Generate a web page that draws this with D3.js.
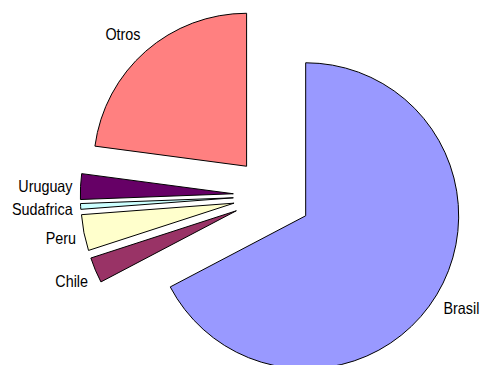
<!DOCTYPE html>
<html lang="es">
<head>
    <meta charset="UTF-8">
    <title>Pie chart - Brasil, Chile, Peru, Sudafrica, Uruguay, Otros</title>
    <script src="https://d3js.org/d3.v7.min.js"></script>
    <style>
        body {
            margin: 0;
            background: #ffffff;
        }
        .slice {
            stroke: #000000;
            stroke-width: 1;
            stroke-linejoin: miter;
        }
        .label {
            font-family: "Liberation Sans", Arial, sans-serif;
            font-size: 16.5px;
            fill: #000000;
        }
    </style>
</head>
<body>
    <svg id="pie" width="483" height="365"></svg>

    <script>
        // share in percent
        const paises = ["Brasil", "Chile", "Peru", "Sudafrica", "Uruguay", "Otros"];
        const valores = [67.3, 2.7, 3.8, 0.6, 2.7, 22.9];
        const colores = ["#9999ff", "#993366", "#ffffcc", "#ccffff", "#660066", "#ff8080"];

        const width = 483, height = 365;
        const cx = 272.3, cy = 195.6;
        const radius = 153;
        const explode = 39;
        const narrow = 0.87; // no Arial Narrow installed, squeeze the text instead

        const data = paises.map((p, i) => ({pais: p, valor: valores[i], color: colores[i]}));

        const pie = d3.pie()
            .value(d => d.valor)
            .sort(null);

        const arc = d3.arc()
            .innerRadius(0)
            .outerRadius(radius);

        const arcs = pie(data);

        const svg = d3.select("#pie")
            .append("g")
            .attr("transform", `translate(${cx},${cy})`);

        // direction of the bisector of each slice
        const dir = d => {
            const a = (d.startAngle + d.endAngle) / 2;
            return [Math.sin(a), -Math.cos(a)];
        };

        svg.selectAll("path")
            .data(arcs)
            .enter()
            .append("path")
            .attr("class", "slice")
            .attr("d", arc)
            .attr("fill", d => d.data.color)
            .attr("transform", d => {
                const [ux, uy] = dir(d);
                return `translate(${ux * explode},${uy * explode})`;
            });

        svg.selectAll("text")
            .data(arcs)
            .enter()
            .append("text")
            .attr("class", "label")
            .attr("transform", d => {
                const [ux, uy] = dir(d);
                const x = ux * (radius + explode + 8);
                const y = uy * (radius + explode + 24) + 7;
                return `translate(${x},${y}) scale(${narrow},1)`;
            })
            .attr("text-anchor", d => dir(d)[0] < 0 ? "end" : "start")
            .text(d => d.data.pais);
    </script>
</body>
</html>
